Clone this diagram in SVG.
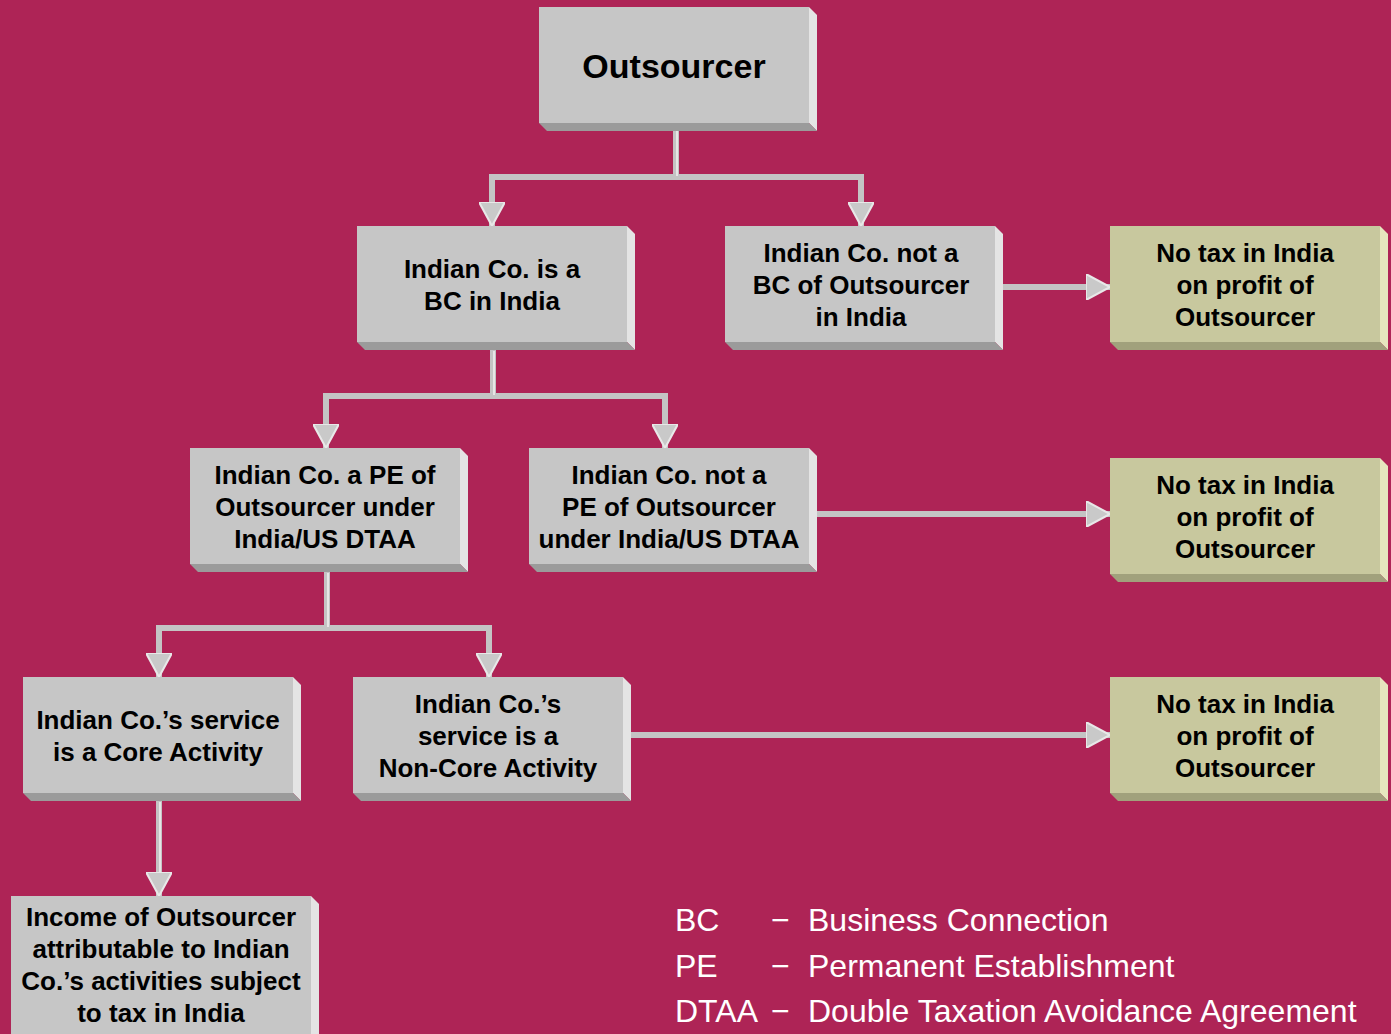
<svg xmlns="http://www.w3.org/2000/svg" width="1391" height="1034" viewBox="0 0 1391 1034">
<defs>
<marker id="ah" viewBox="0 0 10 10" refX="10" refY="5" markerUnits="userSpaceOnUse" markerWidth="24" markerHeight="26" orient="auto" preserveAspectRatio="none">
<path d="M0,0 L10,5 L0,10 z" fill="#C9C9C9" stroke="#E8E8E8" stroke-width="0.8"/>
</marker>
</defs>
<style>
.face{fill:#C6C6C6}
.side{fill:#E4E4E4}
.bot{fill:#9B9B9B}
.yface{fill:#C8C89E}
.yside{fill:#E6E6BE}
.ybot{fill:#A1A17C}
.t{font-family:"Liberation Sans",Arial,sans-serif;font-weight:bold;font-size:26px;fill:#000;text-anchor:middle}
.big{font-size:34px}
.lg{font-family:"Liberation Sans",Arial,sans-serif;font-size:32px;fill:#FFFFFF}
.c{fill:none;stroke:#C4C4C4;stroke-width:6}
.ca{fill:none;stroke:#C4C4C4;stroke-width:6;marker-end:url(#ah)}
.hl{fill:none;stroke:#E6E6E6;stroke-width:2}
</style>
<rect width="1391" height="1034" fill="#AE2456"/>

<g id="connectors">
<path class="c" d="M676,130 V177"/>
<path class="c" d="M489,177 H864"/>
<path class="ca" d="M492,174 V226"/>
<path class="ca" d="M861,174 V226"/>
<path class="ca" d="M1003,287 H1110"/>
<path class="c" d="M493,350 V396"/>
<path class="c" d="M323,396 H668"/>
<path class="ca" d="M326,393 V448"/>
<path class="ca" d="M665,393 V448"/>
<path class="ca" d="M809,514 H1110"/>
<path class="c" d="M327,572 V628"/>
<path class="c" d="M156,628 H492"/>
<path class="ca" d="M159,625 V677"/>
<path class="ca" d="M489,625 V677"/>
<path class="ca" d="M623,735 H1110"/>
<path class="ca" d="M159,801 V896"/>
<path class="hl" d="M677,131 V176 M494,351 V395 M328,573 V627 M160,802 V872"/>
</g>

<g id="n-outsourcer">
<polygon class="side" points="809,7 817,15 817,131 809,123"/>
<polygon class="bot" points="539,123 809,123 817,131 547,131"/>
<rect class="face" x="539" y="7" width="270" height="116"/>
<text class="t big" x="674" y="78">Outsourcer</text>
</g>

<g id="n-bc">
<polygon class="side" points="627,226 635,234 635,350 627,342"/>
<polygon class="bot" points="357,342 627,342 635,350 365,350"/>
<rect class="face" x="357" y="226" width="270" height="116"/>
<text class="t" x="492" y="278">Indian Co. is a</text>
<text class="t" x="492" y="310">BC in India</text>
</g>

<g id="n-notbc">
<polygon class="side" points="995,226 1003,234 1003,350 995,342"/>
<polygon class="bot" points="725,342 995,342 1003,350 733,350"/>
<rect class="face" x="725" y="226" width="270" height="116"/>
<text class="t" x="861" y="262">Indian Co. not a</text>
<text class="t" x="861" y="294">BC of Outsourcer</text>
<text class="t" x="861" y="326">in India</text>
</g>

<g id="n-notax1">
<polygon class="yside" points="1380,226 1388,234 1388,350 1380,342"/>
<polygon class="ybot" points="1110,342 1380,342 1388,350 1118,350"/>
<rect class="yface" x="1110" y="226" width="270" height="116"/>
<text class="t" x="1245" y="262">No tax in India</text>
<text class="t" x="1245" y="294">on profit of</text>
<text class="t" x="1245" y="326">Outsourcer</text>
</g>

<g id="n-pe">
<polygon class="side" points="460,448 468,456 468,572 460,564"/>
<polygon class="bot" points="190,564 460,564 468,572 198,572"/>
<rect class="face" x="190" y="448" width="270" height="116"/>
<text class="t" x="325" y="484">Indian Co. a PE of</text>
<text class="t" x="325" y="516">Outsourcer under</text>
<text class="t" x="325" y="548">India/US DTAA</text>
</g>

<g id="n-notpe">
<polygon class="side" points="809,448 817,456 817,572 809,564"/>
<polygon class="bot" points="529,564 809,564 817,572 537,572"/>
<rect class="face" x="529" y="448" width="280" height="116"/>
<text class="t" x="669" y="484">Indian Co. not a</text>
<text class="t" x="669" y="516">PE of Outsourcer</text>
<text class="t" x="669" y="548">under India/US DTAA</text>
</g>

<g id="n-notax2">
<polygon class="yside" points="1380,458 1388,466 1388,582 1380,574"/>
<polygon class="ybot" points="1110,574 1380,574 1388,582 1118,582"/>
<rect class="yface" x="1110" y="458" width="270" height="116"/>
<text class="t" x="1245" y="494">No tax in India</text>
<text class="t" x="1245" y="526">on profit of</text>
<text class="t" x="1245" y="558">Outsourcer</text>
</g>

<g id="n-core">
<polygon class="side" points="293,677 301,685 301,801 293,793"/>
<polygon class="bot" points="23,793 293,793 301,801 31,801"/>
<rect class="face" x="23" y="677" width="270" height="116"/>
<text class="t" x="158" y="729">Indian Co.’s service</text>
<text class="t" x="158" y="761">is a Core Activity</text>
</g>

<g id="n-noncore">
<polygon class="side" points="623,677 631,685 631,801 623,793"/>
<polygon class="bot" points="353,793 623,793 631,801 361,801"/>
<rect class="face" x="353" y="677" width="270" height="116"/>
<text class="t" x="488" y="713">Indian Co.’s</text>
<text class="t" x="488" y="745">service is a</text>
<text class="t" x="488" y="777">Non-Core Activity</text>
</g>

<g id="n-notax3">
<polygon class="yside" points="1380,677 1388,685 1388,801 1380,793"/>
<polygon class="ybot" points="1110,793 1380,793 1388,801 1118,801"/>
<rect class="yface" x="1110" y="677" width="270" height="116"/>
<text class="t" x="1245" y="713">No tax in India</text>
<text class="t" x="1245" y="745">on profit of</text>
<text class="t" x="1245" y="777">Outsourcer</text>
</g>

<g id="n-income">
<polygon class="side" points="311,896 319,904 319,1040 311,1040"/>
<rect class="face" x="11" y="896" width="300" height="144"/>
<text class="t" x="161" y="926">Income of Outsourcer</text>
<text class="t" x="161" y="958">attributable to Indian</text>
<text class="t" x="161" y="990">Co.’s activities subject</text>
<text class="t" x="161" y="1022">to tax in India</text>
</g>

<g id="legend">
<text class="lg" x="675" y="931">BC</text>
<text class="lg" x="771" y="931">−</text>
<text class="lg" x="808" y="931">Business Connection</text>
<text class="lg" x="675" y="977">PE</text>
<text class="lg" x="771" y="977">−</text>
<text class="lg" x="808" y="977">Permanent Establishment</text>
<text class="lg" x="675" y="1022">DTAA</text>
<text class="lg" x="771" y="1022">−</text>
<text class="lg" x="808" y="1022">Double Taxation Avoidance Agreement</text>
</g>
</svg>
